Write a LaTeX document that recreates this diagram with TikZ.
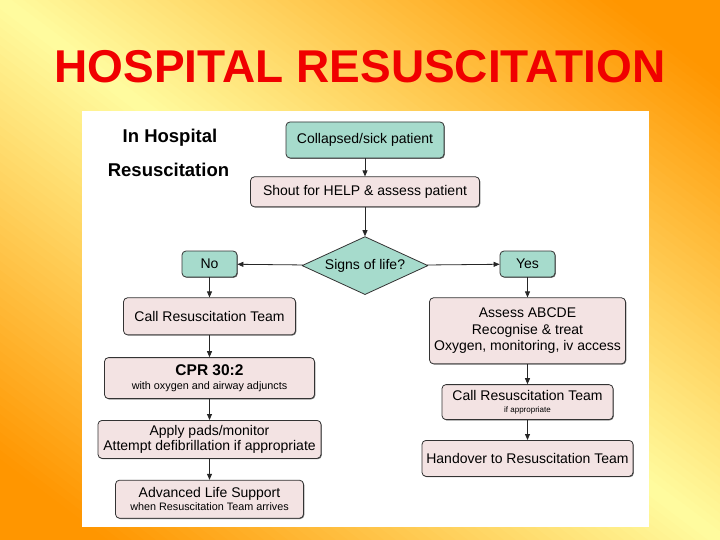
\documentclass[tikz,border=0pt]{standalone}
\usepackage{fontspec}
\setmainfont{Liberation Sans}
\usetikzlibrary{positioning,arrows.meta,shapes.geometric,shadows}

\definecolor{slideorange}{RGB}{255,150,0}
\definecolor{slideyellow}{RGB}{255,252,160}
\definecolor{titlered}{RGB}{240,0,0}
\definecolor{boxteal}{RGB}{166,219,204}
\definecolor{boxpink}{RGB}{243,227,227}

\newcommand{\cprfont}{\bfseries\fontsize{15.5}{17}\selectfont}
\newcommand{\notefont}{\fontsize{10.8}{12}\selectfont}
\newcommand{\tinynote}{\fontsize{8}{9}\selectfont}

\begin{document}
\begin{tikzpicture}[
    x=1pt, y=-1pt,
    line join=round,
    >={Triangle[length=6pt,width=5pt]},
    node distance=20pt,
    every node/.style={inner sep=2pt},
    boxshadow/.style={drop shadow={shadow xshift=0.8pt, shadow yshift=-0.8pt, opacity=0.55, fill=black}},
    greenbox/.style={draw=black!80, rounded corners=4pt, fill=boxteal, line width=0.8pt, boxshadow,
        font=\fontsize{14}{16.5}\selectfont, align=center},
    pinkbox/.style={draw=black!80, rounded corners=4pt, fill=boxpink, line width=0.8pt, boxshadow,
        font=\fontsize{14}{16.5}\selectfont, align=center},
    decision/.style={diamond, draw=black!80, fill=boxteal, line width=0.8pt, aspect=2.2,
        minimum width=126pt, minimum height=58pt, inner sep=0pt, font=\fontsize{14}{16.5}\selectfont},
    headtext/.style={font=\bfseries\fontsize{18.5}{20}\selectfont, anchor=base},
    flow/.style={->, line width=0.8pt, black!85}
]

% slide background: yellow along the main diagonal, orange toward the other corners
\useasboundingbox (0,0) rectangle (720,540);
\begin{scope}
  \clip (0,0) rectangle (720,540);
  \foreach \i in {0,...,119}{
    \pgfmathsetmacro\ua{-1+\i/60}
    \pgfmathsetmacro\ub{\ua+0.022}
    \pgfmathsetmacro\p{min(100,abs(\ua+0.0083)/0.85*100)}
    \fill[slideorange!\p!slideyellow] (720*\ua,0) -- (720*\ub,0) -- (720*\ub+720,540) -- (720*\ua+720,540) -- cycle;
  }
\end{scope}
\node[text=titlered, font=\bfseries\fontsize{46}{50}\selectfont, anchor=base] (title) at (360,83) {HOSPITAL RESUSCITATION};
\fill[white] (82,111) rectangle (649,527);

% heading
\node[headtext] (inhosp) at (170,142.6) {In Hospital};
\node[headtext] (resus) at (168.5,176.6) {Resuscitation};

% top of the chart
\node[greenbox, minimum width=158pt, minimum height=36pt] (collapsed) at (365,140) {Collapsed/sick patient};
\node[pinkbox, minimum width=229pt, minimum height=30pt, below=18pt of collapsed] (shout) {Shout for HELP \& assess patient};
\node[decision, below=29pt of shout] (life) {Signs of life?};
\node[greenbox, minimum width=55pt, minimum height=26pt] (no) at (209.5,264) {No};
\node[greenbox, minimum width=55pt, minimum height=26pt] (yes) at (527.5,264) {Yes};

% no signs of life
\node[pinkbox, minimum width=172pt, minimum height=37pt, below=20pt of no] (callteam) {Call Resuscitation Team};
\node[pinkbox, minimum width=210pt, minimum height=41pt, below=22pt of callteam] (cpr)
    {{\cprfont CPR 30:2}\\[-3pt]{\notefont with oxygen and airway adjuncts}};
\node[pinkbox, minimum width=223pt, minimum height=38pt, below=21pt of cpr] (pads)
    {Apply pads/monitor\\[-1pt]Attempt defibrillation if appropriate};
\node[pinkbox, minimum width=188pt, minimum height=38pt, below=21pt of pads] (als)
    {Advanced Life Support\\[-4pt]{\notefont when Resuscitation Team arrives}};

% signs of life
\node[pinkbox, minimum width=196pt, minimum height=66pt, below=20pt of yes] (assess)
    {Assess ABCDE\\Recognise \& treat\\Oxygen, monitoring, iv access};
\node[pinkbox, minimum width=171pt, minimum height=35pt, below=20pt of assess] (callteamR)
    {Call Resuscitation Team\\[-5pt]{\tinynote if appropriate}};
\node[pinkbox, minimum width=211pt, minimum height=36pt, below=20pt of callteamR] (handover)
    {Handover to Resuscitation Team};

% arrows
\draw[flow] (collapsed) -- (shout);
\draw[flow] (shout) -- (life);
\draw[flow] (life) -- (no);
\draw[flow] (life) -- (yes);
\draw[flow] (no) -- (callteam);
\draw[flow] (callteam) -- (cpr);
\draw[flow] (cpr) -- (pads);
\draw[flow] (pads) -- (als);
\draw[flow] (yes) -- (assess);
\draw[flow] (assess) -- (callteamR);
\draw[flow] (callteamR) -- (handover);

\end{tikzpicture}
\end{document}
